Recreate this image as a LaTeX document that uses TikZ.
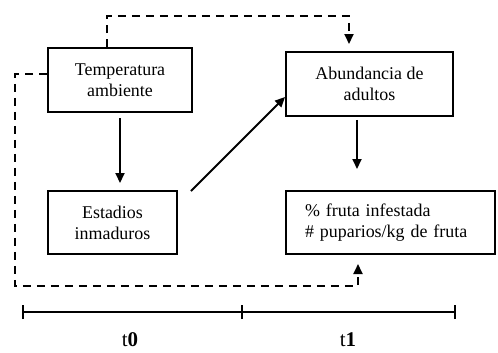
\documentclass[tikz,border=0pt]{standalone}
\usepackage{fontspec}
\setmainfont{Liberation Serif}
\usetikzlibrary{arrows.meta}
\begin{document}
\begin{tikzpicture}[x=1bp,y=-1bp,
  box/.style={draw,line width=1.9bp,minimum width=#1,inner sep=0pt,font=\fontsize{18}{21}\selectfont,align=center},
  sol/.style={line width=1.9bp,-{Triangle[length=10bp,width=9bp]}},
  dsh/.style={line width=1.9bp,dash pattern=on 8bp off 6bp,-{Triangle[length=10bp,width=9bp]}},
  axis/.style={line width=1.7bp},
  lbl/.style={font=\fontsize{21}{24}\selectfont}]
\useasboundingbox (0,0) rectangle (498,352);
\node[box=144bp,minimum height=64bp] (temp) at (120,80) {Temperatura\\ambiente};
\node[box=167bp,minimum height=64bp] (abun) at (369.5,84) {Abundancia de\\adultos};
\node[box=129bp,minimum height=63bp] (est) at (112.5,222.5) {Estadios\\inmaduros};
\node[box=209bp,minimum height=63bp,align=left,text width=171bp,inner xsep=19bp] (fruta) at (390.5,222.5) {\% fruta infestada\\\# puparios/kg de fruta};
% solid arrows
\coordinate (a1) at (120,183);
\draw[sol] (temp.south |- 0,118) -- (a1);
\coordinate (a2) at (357,169);
\draw[sol] (abun.south -| a2) ++(0,3) -- (a2);
\coordinate (d0) at (191,191);
\draw[sol] (d0) -- (abun.west |- 0,97);
% dashed top
\coordinate (t1) at (107,16);
\coordinate (t2) at (349,16);
\coordinate (t3) at (349,44);
\draw[dsh] (temp.north -| t1) -- (t1) -- (t2) -- (t3);
% dashed left loop
\coordinate (l1) at (15,74);
\coordinate (l2) at (15,286);
\coordinate (l3) at (358,286);
\coordinate (l4) at (358,264);
\draw[dsh] (temp.west |- l1) -- (l1) -- (l2) -- (l3) -- (l4);
% timeline
\coordinate (x0) at (23,312);
\coordinate (x1) at (242,312);
\coordinate (x2) at (455,312);
\draw[axis] (x0) -- (x2);
\foreach \p in {x0,x1,x2} \draw[axis] ([yshift=-7bp]\p) -- ([yshift=7bp]\p);
\node[lbl] (lt0) at (130,340) {t\textbf{0}};
\node[lbl] (lt1) at (348,340) {t\textbf{1}};
\end{tikzpicture}
\end{document}
